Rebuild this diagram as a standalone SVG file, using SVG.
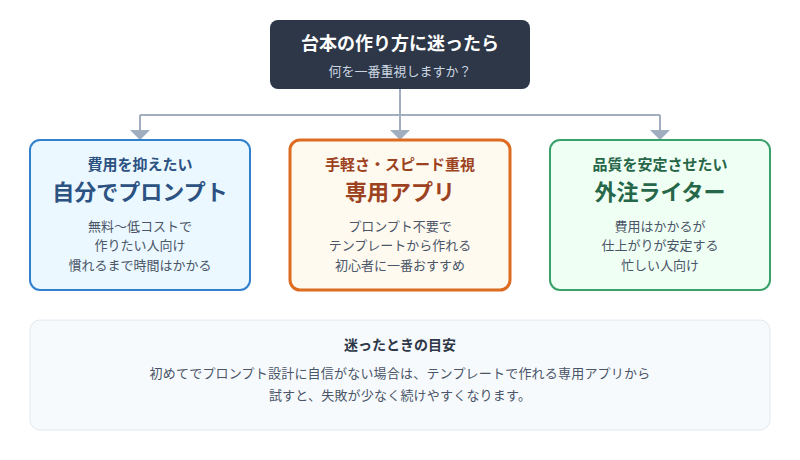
<svg xmlns="http://www.w3.org/2000/svg" width="800" height="460" viewBox="0 0 800 460">
<style>
text{font-family:"Noto Sans CJK JP","Noto Sans",sans-serif;text-anchor:middle}
.conn{fill:none;stroke:#a0aec0;stroke-width:2}
.arrow{fill:#a0aec0}
.card{stroke-width:2}
.sub{font-size:15px;font-weight:bold}
.ttl{font-size:22px;font-weight:bold}
.body{font-size:13px;fill:#4a5568}
</style>
<rect width="800" height="460" fill="#ffffff"/>
<g id="connectors">
<path class="conn" d="M400,89 V115 M140,115 H660"/>
<path class="conn" d="M140,115 V131"/>
<path class="conn" d="M400,115 V131"/>
<path class="conn" d="M660,115 V131"/>
<path class="arrow" d="M130,130 H150 L140,140 Z"/>
<path class="arrow" d="M390,130 H410 L400,140 Z"/>
<path class="arrow" d="M650,130 H670 L660,140 Z"/>
</g>
<g id="root">
<rect x="270" y="20" width="260" height="69" rx="8" fill="#2d3748"/>
<text x="400" y="50" font-size="18" font-weight="bold" fill="#ffffff">台本の作り方に迷ったら</text>
<text x="400" y="76" font-size="13" fill="#cbd5e0">何を一番重視しますか？</text>
</g>
<g id="self">
<rect class="card" x="30" y="140" width="220" height="150" rx="10" fill="#ebf8ff" stroke="#3182ce"/>
<text class="sub" x="140" y="170" fill="#2c5282">費用を抑えたい</text>
<text class="ttl" x="140" y="200" fill="#2c5282">自分でプロンプト</text>
<text class="body" x="140" y="231">無料〜低コストで</text>
<text class="body" x="140" y="250">作りたい人向け</text>
<text class="body" x="140" y="270">慣れるまで時間はかかる</text>
</g>
<g id="app">
<rect x="290" y="140" width="220" height="150" rx="10" fill="#fffaf0" stroke="#dd6b20" stroke-width="3"/>
<text class="sub" x="400" y="170" fill="#9c4221">手軽さ・スピード重視</text>
<text class="ttl" x="400" y="200" fill="#9c4221">専用アプリ</text>
<text class="body" x="400" y="231">プロンプト不要で</text>
<text class="body" x="400" y="250">テンプレートから作れる</text>
<text class="body" x="400" y="270">初心者に一番おすすめ</text>
</g>
<g id="writer">
<rect class="card" x="550" y="140" width="220" height="150" rx="10" fill="#f0fff4" stroke="#38a169"/>
<text class="sub" x="660" y="170" fill="#276749">品質を安定させたい</text>
<text class="ttl" x="660" y="200" fill="#276749">外注ライター</text>
<text class="body" x="660" y="231">費用はかかるが</text>
<text class="body" x="660" y="250">仕上がりが安定する</text>
<text class="body" x="660" y="270">忙しい人向け</text>
</g>
<g id="note">
<rect x="30" y="320" width="740" height="110" rx="10" fill="#f7fafc" stroke="#e2e8f0" stroke-width="1"/>
<text x="400" y="350" font-size="14" font-weight="bold" fill="#2d3748">迷ったときの目安</text>
<text class="body" x="400" y="378" letter-spacing="0.2">初めてでプロンプト設計に自信がない場合は、テンプレートで作れる専用アプリから</text>
<text class="body" x="400" y="400" letter-spacing="0.2">試すと、失敗が少なく続けやすくなります。</text>
</g>
</svg>
